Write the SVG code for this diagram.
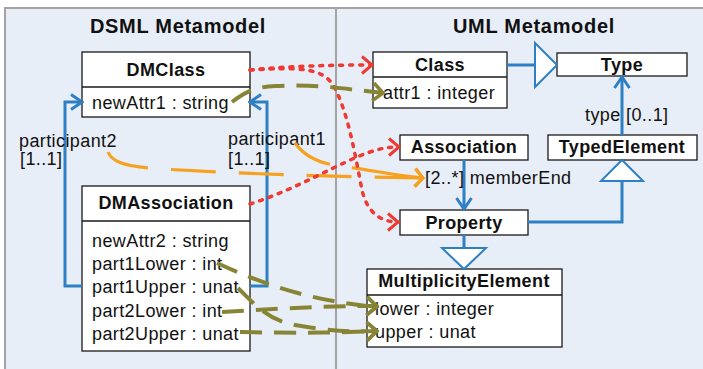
<svg xmlns="http://www.w3.org/2000/svg" width="703" height="369" viewBox="0 0 703 369">
<style>
.panel{fill:#e8eef7;stroke:#a3a3a3;stroke-width:2}
.box{fill:#ffffff;stroke:#1a1a1a;stroke-width:1.3}
.t{font-family:"Liberation Sans",Arial,sans-serif;font-size:18px;letter-spacing:0.4px;fill:#111}
.b{font-weight:bold;text-anchor:middle}
.title{font-family:"Liberation Sans",Arial,sans-serif;font-size:20px;font-weight:bold;letter-spacing:0.7px;text-anchor:middle;fill:#111}
.blue{fill:none;stroke:#2e7fc4;stroke-width:3}
.tri{fill:#ffffff;stroke:#2e7fc4;stroke-width:2}
.red{fill:none;stroke:#ee3a33;stroke-width:3.5;stroke-dasharray:3 7;stroke-linecap:round}
.orange{fill:none;stroke:#f6a11f;stroke-width:3.2}
.olive{fill:none;stroke:#878535;stroke-width:4;stroke-dasharray:22 12}
</style>
<defs>
<marker id="aBlue" viewBox="-14 -10 16 20" refX="0" refY="0" markerWidth="16" markerHeight="20" markerUnits="userSpaceOnUse" orient="auto"><path d="M-11,-7.5 L0,0 L-11,7.5" fill="none" stroke="#2e7fc4" stroke-width="3"/></marker>
<marker id="aRed" viewBox="-14 -11 16 22" refX="0" refY="0" markerWidth="16" markerHeight="22" markerUnits="userSpaceOnUse" orient="auto"><path d="M-10,-8.5 L0,0 L-10,8.5" fill="none" stroke="#ee3a33" stroke-width="3"/></marker>
<marker id="aOrange" viewBox="-14 -11 16 22" refX="0" refY="0" markerWidth="16" markerHeight="22" markerUnits="userSpaceOnUse" orient="auto"><path d="M-8,-9 L0,0 L-8,9" fill="none" stroke="#f6a11f" stroke-width="3"/></marker>
<marker id="aOlive" viewBox="-14 -11 16 22" refX="0" refY="0" markerWidth="16" markerHeight="22" markerUnits="userSpaceOnUse" orient="auto"><path d="M-10,-9 L0,0 L-10,9" fill="none" stroke="#878535" stroke-width="3.5"/></marker>
</defs>

<g id="panels">
<rect class="panel" x="5" y="8" width="710" height="380"/>
<line x1="336" y1="8" x2="336" y2="369" stroke="#a3a3a3" stroke-width="2"/>
<text class="title" x="178" y="33">DSML Metamodel</text>
<text class="title" x="534" y="33">UML Metamodel</text>
</g>

<g id="DMClass">
<rect class="box" x="82" y="52" width="168" height="65"/>
<line x1="82" y1="87" x2="250" y2="87" stroke="#1a1a1a" stroke-width="1.3"/>
<text class="t b" x="166" y="76">DMClass</text>
<text class="t" x="92" y="109">newAttr1 : string</text>
</g>

<g id="DMAssociation">
<rect class="box" x="82" y="186" width="168" height="165"/>
<line x1="82" y1="221" x2="250" y2="221" stroke="#1a1a1a" stroke-width="1.3"/>
<text class="t b" x="166" y="209">DMAssociation</text>
<text class="t" x="92" y="247">newAttr2 : string</text>
<text class="t" x="92" y="270">part1Lower : int</text>
<text class="t" x="92" y="293">part1Upper : unat</text>
<text class="t" x="92" y="317">part2Lower : int</text>
<text class="t" x="92" y="340">part2Upper : unat</text>
</g>

<g id="Class">
<rect class="box" x="373" y="52" width="134" height="56"/>
<line x1="373" y1="77" x2="507" y2="77" stroke="#1a1a1a" stroke-width="1.3"/>
<text class="t b" x="440" y="71">Class</text>
<text class="t" x="383" y="99">attr1 : integer</text>
</g>

<g id="Type">
<rect class="box" x="557" y="53" width="130" height="23"/>
<text class="t b" x="622" y="71">Type</text>
</g>

<g id="Association">
<rect class="box" x="400" y="135" width="128" height="25"/>
<text class="t b" x="464" y="153">Association</text>
</g>

<g id="TypedElement">
<rect class="box" x="548" y="135" width="149" height="25"/>
<text class="t b" x="622" y="153">TypedElement</text>
</g>

<g id="Property">
<rect class="box" x="400" y="210" width="128" height="25"/>
<text class="t b" x="464" y="229">Property</text>
</g>

<g id="MultiplicityElement">
<rect class="box" x="367" y="269" width="195" height="78"/>
<line x1="367" y1="295" x2="562" y2="295" stroke="#1a1a1a" stroke-width="1.3"/>
<text class="t b" x="464" y="287">MultiplicityElement</text>
<text class="t" x="375" y="315">lower : integer</text>
<text class="t" x="375" y="338">upper : unat</text>
</g>

<g id="connectors">
<path class="blue" d="M82,286 H65 V102 H82" marker-end="url(#aBlue)"/>
<path class="blue" d="M250,286 H267 V102 H250" marker-end="url(#aBlue)"/>
<path class="blue" d="M507,65 H535"/>
<polygon class="tri" points="535,43 557,65 535,87"/>
<path class="blue" d="M622,135 V77" marker-end="url(#aBlue)"/>
<path class="blue" d="M528,222 H622 V181"/>
<polygon class="tri" points="601,181 643,181 622,160"/>
<path class="blue" d="M464,160 V209" marker-end="url(#aBlue)"/>
<path class="blue" d="M464,235 V248"/>
<polygon class="tri" points="442,248 486,248 464,269"/>

<text class="t" x="19" y="147">participant2</text>
<text class="t" x="20" y="165">[1..1]</text>
<text class="t" x="228" y="145">participant1</text>
<text class="t" x="228" y="165">[1..1]</text>
<text class="t" x="585" y="121">type [0..1]</text>
<text class="t" x="425" y="184">[2..*] memberEnd</text>

<path class="orange" d="M108,152 C112,162 125,166 150,168 C200,172 300,176 423,178" stroke-dasharray="45 23" marker-end="url(#aOrange)"/>
<path class="orange" d="M295,143 C305,157 318,163 340,166 C370,170 400,176 423,178" stroke-dasharray="42 22 100" marker-end="url(#aOrange)"/>

<path class="red" d="M250,70 C290,66 330,65 372,65" marker-end="url(#aRed)"/>
<path class="red" d="M250,70 C300,67 322,68 333,85 C348,110 356,160 362,190 C367,212 380,222 398,222" marker-end="url(#aRed)"/>
<path class="red" d="M250,204 C300,188 340,162 370,152 C385,147 392,147 399,147" marker-end="url(#aRed)"/>

<path class="olive" d="M232,102 C245,92 255,87 275,86 C320,84 345,89 383,93" marker-end="url(#aOlive)"/>
<path class="olive" d="M217,263 C260,283 310,301 377,307" marker-end="url(#aOlive)"/>
<path class="olive" d="M238,288 C255,305 268,320 295,325 C330,331 350,332 377,331" marker-end="url(#aOlive)"/>
<path class="olive" d="M222,312 C270,309 320,306 377,306" marker-end="url(#aOlive)"/>
<path class="olive" d="M240,332 C290,333 330,333 377,331" marker-end="url(#aOlive)"/>
</g>
</svg>
